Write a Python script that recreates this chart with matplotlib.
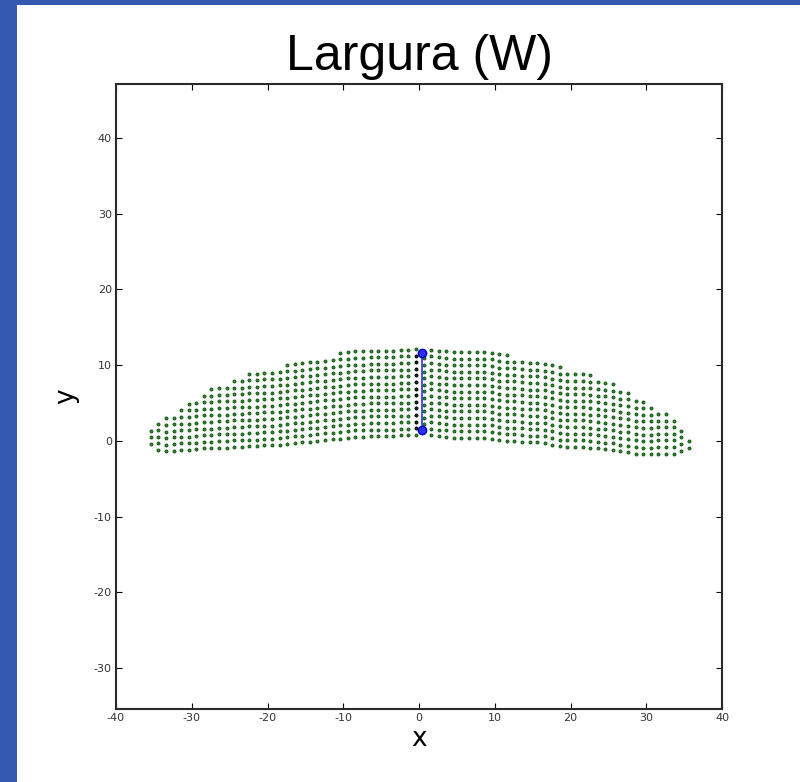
import numpy as np
import matplotlib
matplotlib.use("Agg")
import matplotlib.pyplot as plt
from matplotlib.patches import Rectangle

plt.rcParams["axes.unicode_minus"] = False

# Star field columns: x of each column, lowest and highest dot in it
col_x = [
    -35.4, -34.4, -33.4, -32.4, -31.4, -30.4, -29.4, -28.4, -27.4, -26.4,
    -25.4, -24.4, -23.4, -22.4, -21.4, -20.4, -19.4, -18.4, -17.4, -16.4,
    -15.4, -14.4, -13.4, -12.4, -11.4, -10.4, -9.4, -8.4, -7.4, -6.4,
    -5.4, -4.4, -3.4, -2.4, -1.4, -0.4, 0.6, 1.6, 2.6, 3.6,
    4.6, 5.6, 6.6, 7.6, 8.6, 9.6, 10.6, 11.6, 12.6, 13.6,
    14.6, 15.6, 16.6, 17.6, 18.6, 19.6, 20.6, 21.6, 22.6, 23.6,
    24.6, 25.6, 26.6, 27.6, 28.6, 29.6, 30.6, 31.6, 32.6, 33.6,
    34.6, 35.6,
]
col_bottom = [
    -0.4, -1.2, -1.4, -1.3, -1.2, -1.2, -1.1, -1.0, -1.0, -0.9,
    -0.9, -0.8, -0.8, -0.7, -0.7, -0.6, -0.6, -0.5, -0.4, -0.3,
    -0.2, -0.1, 0.0, 0.1, 0.2, 0.3, 0.4, 0.5, 0.5, 0.6,
    0.6, 0.6, 0.6, 0.7, 0.7, 0.8, 1.3, 0.7, 0.6, 0.5,
    0.4, 0.4, 0.4, 0.4, 0.4, 0.3, 0.1, 0.0, 0.0, -0.1,
    -0.2, -0.2, -0.3, -0.5, -0.7, -0.8, -0.8, -0.8, -0.9, -1.0,
    -1.1, -1.2, -1.4, -1.5, -1.7, -1.8, -1.8, -1.7, -1.7, -1.7,
    -1.3, -0.9,
]
col_top = [
    1.8, 2.6, 3.3, 3.9, 4.4, 5.0, 5.7, 6.4, 6.9, 7.3,
    7.7, 8.2, 8.6, 8.9, 9.1, 9.4, 9.6, 9.9, 10.2, 10.5,
    10.7, 10.9, 11.2, 11.4, 11.5, 11.7, 11.8, 11.9, 12.1, 12.2,
    12.3, 12.3, 12.4, 12.4, 12.5, 12.5, 12.5, 12.5, 12.5, 12.4,
    12.4, 12.4, 12.4, 12.3, 12.2, 12.1, 11.9, 11.6, 11.3, 11.0,
    10.8, 10.5, 10.3, 10.0, 9.8, 9.6, 9.3, 9.1, 8.8, 8.3,
    7.9, 7.5, 7.0, 6.5, 5.9, 5.2, 4.7, 4.2, 3.7, 2.9,
    1.4, 0.0,
]
row_step = 0.87

# Width measurement segment
width_x = [0.4, 0.4]
width_y = [1.4, 11.6]
width_col = -0.4

pts_x, pts_y = [], []
for cx, lo, hi in zip(col_x, col_bottom, col_top):
    n = int(np.floor((hi - lo) / row_step + 1e-6)) + 1
    for k in range(n):
        pts_x.append(cx)
        pts_y.append(lo + k * row_step)
pts_x = np.array(pts_x)
pts_y = np.array(pts_y)

sel = (np.isclose(pts_x, width_col)) & (pts_y > width_y[0]) & (pts_y < width_y[1])

fig = plt.figure(figsize=(8, 7.82), dpi=100)
fig.patches.append(Rectangle((0, 0), 17 / 800, 1, transform=fig.transFigure,
                             facecolor="#3558b0", edgecolor="none", zorder=0))
fig.patches.append(Rectangle((0, 1 - 5 / 782), 1, 5 / 782, transform=fig.transFigure,
                             facecolor="#3558b0", edgecolor="none", zorder=0))

ax = fig.add_axes([0.145, 0.0934, 0.7575, 0.7992])
ax.plot(pts_x, pts_y, "o", ms=2.2, color="#2a8a2a", mec="#135013", mew=0.6, ls="none")
ax.plot(pts_x[sel], pts_y[sel], "o", ms=2.0, color="#222222", mec="#000000", mew=0.5, ls="none")
ax.plot(width_x, width_y, "-o", color="#3030f0", lw=1.2, ms=6, mec="#0000cc")

ax.set_xlim(-40, 40)
ax.set_ylim(-35.4, 47.1)
ax.set_xticks(np.arange(-40, 41, 10))
ax.set_yticks(np.arange(-30, 41, 10))
ax.tick_params(direction="in", top=True, right=True, length=4, width=0.8,
               labelsize=8, pad=3, labelcolor="#333333")
for s in ax.spines.values():
    s.set_linewidth(1.5)
    s.set_color("#2a2a2a")

ax.set_xlabel("x", fontsize=19)
ax.set_ylabel("y", fontsize=19)
ax.xaxis.set_label_coords(0.5, -0.028)
ax.yaxis.set_label_coords(-0.06, 0.5)

fig.text(0.524, 0.927, "Largura (W)", ha="center", va="center",
         fontsize=36, family="Liberation Sans")

fig.savefig("out.png", dpi=100)
